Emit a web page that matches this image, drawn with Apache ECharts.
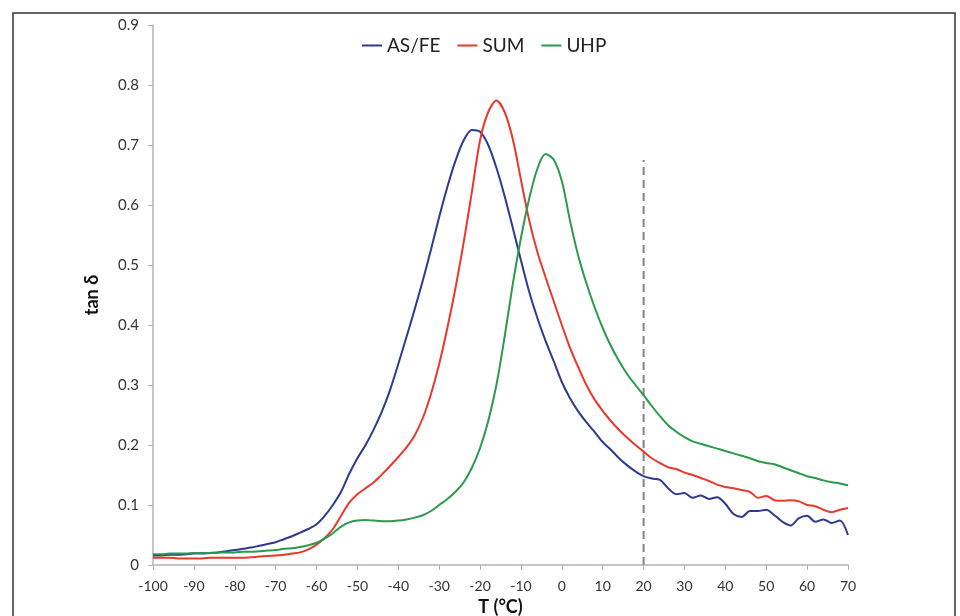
<!DOCTYPE html>
<html>
<head>
<meta charset="utf-8">
<script src="https://cdn.jsdelivr.net/npm/echarts@6/dist/echarts.min.js"></script>
<style>html,body{margin:0;padding:0;background:#fff}#c{width:960px;height:616px}</style>
</head>
<body>
<div id="c"></div>
<script>
const temps = [-100,-98,-96,-94,-92,-90,-88,-86,-84,-82,-80,-78,-76,-74,-72,-70,-68,-66,-64,-62,-60,-58,-56,-54,-52,-50,-48,-46,-44,-42,-40,-38,-36,-34,-32,-30,-28,-26,-24,-22,-20,-18,-16,-14,-12,-10,-8,-6,-4,-2,0,2,4,6,8,10,12,14,16,18,20,22,24,26,28,30,32,34,36,38,40,42,44,46,48,50,52,54,56,58,60,62,64,66,68,70];
const asfe = [0.016,0.016,0.017,0.017,0.018,0.019,0.019,0.020,0.021,0.023,0.025,0.027,0.029,0.032,0.035,0.038,0.043,0.048,0.054,0.060,0.068,0.082,0.100,0.122,0.152,0.178,0.200,0.226,0.256,0.292,0.335,0.380,0.426,0.474,0.526,0.580,0.630,0.674,0.708,0.725,0.722,0.700,0.662,0.615,0.562,0.508,0.456,0.412,0.374,0.340,0.305,0.278,0.256,0.238,0.222,0.205,0.192,0.178,0.166,0.156,0.148,0.144,0.142,0.128,0.118,0.120,0.112,0.116,0.110,0.113,0.102,0.085,0.080,0.090,0.090,0.092,0.083,0.072,0.066,0.078,0.082,0.072,0.076,0.070,0.074,0.050];
const sum = [0.012,0.012,0.012,0.011,0.011,0.011,0.011,0.012,0.012,0.012,0.012,0.012,0.013,0.014,0.015,0.016,0.017,0.019,0.021,0.026,0.034,0.045,0.060,0.082,0.104,0.118,0.128,0.138,0.151,0.165,0.180,0.196,0.216,0.245,0.285,0.335,0.395,0.462,0.538,0.622,0.708,0.755,0.774,0.755,0.710,0.642,0.575,0.522,0.480,0.440,0.400,0.362,0.330,0.300,0.276,0.257,0.240,0.225,0.212,0.200,0.189,0.178,0.170,0.163,0.160,0.154,0.150,0.145,0.140,0.134,0.130,0.128,0.125,0.122,0.112,0.115,0.108,0.107,0.108,0.106,0.100,0.098,0.092,0.088,0.092,0.095];
const uhp = [0.018,0.018,0.019,0.019,0.019,0.020,0.020,0.020,0.021,0.021,0.021,0.022,0.022,0.023,0.024,0.025,0.027,0.028,0.030,0.033,0.037,0.044,0.053,0.064,0.071,0.074,0.075,0.074,0.073,0.073,0.074,0.076,0.079,0.083,0.090,0.100,0.110,0.122,0.138,0.162,0.195,0.240,0.300,0.380,0.468,0.545,0.610,0.660,0.685,0.676,0.640,0.574,0.516,0.470,0.430,0.395,0.365,0.340,0.318,0.300,0.283,0.265,0.248,0.233,0.222,0.213,0.206,0.202,0.198,0.194,0.190,0.186,0.182,0.178,0.173,0.170,0.168,0.163,0.158,0.153,0.148,0.145,0.141,0.138,0.136,0.133];
const refLineT = [20, 20];
const refLineV = [0, 0.675];
const seriesNames = ['AS/FE', 'SUM', 'UHP'];

const pairs = (xs, ys) => xs.map((x, i) => [x, ys[i]]);
const font = 'Lato, "Open Sans", sans-serif';
const chart = echarts.init(document.getElementById('c'));
const lineSeries = (name, ys, color) => ({
  name, type: 'line', data: pairs(temps, ys), symbol: 'none', smooth: 0.3,
  lineStyle: { color, width: 2 }, itemStyle: { color }, z: 3
});
chart.setOption({
  animation: false,
  backgroundColor: '#fff',
  graphic: [{ type: 'rect', shape: { x: 13, y: 13, width: 942, height: 620 },
    style: { fill: 'none', stroke: '#333', lineWidth: 1.5 }, z: 0 }],
  grid: { left: 153, right: 112, top: 25, bottom: 51, outerBoundsMode: 'none', containLabel: false },
  legend: {
    data: seriesNames, left: 356, top: 31, itemWidth: 20, itemHeight: 2, itemGap: 16,
    textStyle: { fontFamily: font, fontSize: 19, color: '#222' }
  },
  xAxis: {
    type: 'value', min: -100, max: 70, interval: 10,
    name: 'T (°C)', nameLocation: 'middle', nameGap: 32,
    nameTextStyle: { fontFamily: font, fontSize: 18, fontWeight: 'bold', color: '#111' },
    axisLine: { onZero: false, lineStyle: { color: '#b8b0b0', width: 1.5 } },
    axisTick: { show: true, length: 5, lineStyle: { color: '#b8b0b0' } },
    axisLabel: { fontFamily: font, fontSize: 14, color: '#333', margin: 14 },
    splitLine: { show: false }
  },
  yAxis: {
    type: 'value', min: 0, max: 0.9, interval: 0.1,
    name: 'tan δ', nameLocation: 'middle', nameGap: 52,
    nameTextStyle: { fontFamily: font, fontSize: 18, fontWeight: 'bold', color: '#111' },
    axisLine: { show: true, onZero: false, lineStyle: { color: '#b8b0b0', width: 1.5 } },
    axisTick: { show: true, length: 5, lineStyle: { color: '#b8b0b0' } },
    axisLabel: { fontFamily: font, fontSize: 15, color: '#333', margin: 14 },
    splitLine: { show: false }
  },
  series: [
    lineSeries('AS/FE', asfe, '#2e3a8e'),
    lineSeries('SUM', sum, '#e8392b'),
    lineSeries('UHP', uhp, '#2a9a4c'),
    { name: 'ref', type: 'line', data: pairs(refLineT, refLineV), symbol: 'none',
      lineStyle: { color: '#8a8282', width: 2, type: [8, 5] }, z: 2, silent: true }
  ]
});
</script>
</body>
</html>
